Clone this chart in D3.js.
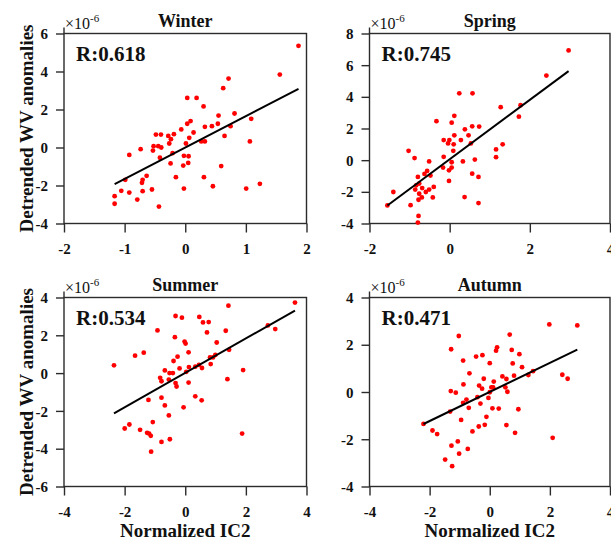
<!DOCTYPE html>
<html>
<head>
<meta charset="utf-8">
<script src="https://cdn.jsdelivr.net/npm/d3@7/dist/d3.min.js"></script>
<style>
  html, body { margin: 0; padding: 0; background: #fff; }
  svg { display: block; }
  text { font-family: "Liberation Serif", "Times New Roman", serif; font-weight: bold; fill: #111; }
</style>
</head>
<body>
<svg id="chart" width="611" height="541"></svg>
<script>
// Seasonal scatter: normalized IC2 vs detrended WV anomalies (×10^-6)
const seasons = ["Winter", "Spring", "Summer", "Autumn"];
const rLabels = ["R:0.618", "R:0.745", "R:0.534", "R:0.471"];

// Least-squares fit lines (slope, intercept) per season
const fitSlope = [1.651, 1.877, 0.911, 0.615];
const fitIntercept = [0.0, 0.057, 0.01, 0.0];

// Axis extents and tick values
const xDomains = [[-2, 2], [-2, 4], [-4, 4], [-4, 4]];
const yDomains = [[-4, 6], [-4, 8], [-6, 4], [-4, 4]];
const xTickValues = [[-2, -1, 0, 1, 2], [-2, 0, 2, 4], [-4, -2, 0, 2, 4], [-4, -2, 0, 2, 4]];
const yTickValues = [[-4, -2, 0, 2, 4, 6], [-4, -2, 0, 2, 4, 6, 8], [-6, -4, -2, 0, 2, 4], [-4, -2, 0, 2, 4]];

const winterX = [1.868, 1.56, 0.714, 0.626, 0.033, 0.187, 0.302, 0.813, 0.549, 1.088, 0.088, 0.033, -0.066, 0.137, 0.324, 0.44, 0.538, 0.747, 0.648, -0.484, -0.401, -0.28, -0.187, -0.236, -0.264, 0.066, 0.011, 0.264, 0.324, 1.066, -0.522, -0.445, -0.396, -0.533, -0.736, -0.923, -0.418, -0.209, -0.022, 0.055, -0.242, -0.033, 0.049, 0.593, -0.154, 0.308, -0.637, -0.703, -0.714, -0.989, -1.055, -0.923, -0.703, -0.549, -0.791, -1.165, -1.165, -0.434, -0.022, 0.456, 1.005, 1.231];
const winterY = [5.35, 3.84, 3.63, 3.12, 2.61, 2.61, 2.16, 1.79, 1.68, 1.51, 1.39, 1.25, 0.95, 0.79, 1.09, 1.12, 1.25, 1.12, 0.61, 0.68, 0.68, 0.61, 0.70, 0.44, 0.21, 0.51, 0.21, 0.32, 0.32, 0.32, 0.07, 0.07, 0.0, -0.16, -0.09, -0.39, -0.54, -0.30, -0.44, -0.46, -0.84, -0.95, -0.81, -0.98, -1.56, -1.56, -1.49, -1.70, -1.86, -1.70, -2.28, -2.37, -2.30, -2.21, -2.74, -2.56, -2.96, -3.11, -2.16, -2.04, -2.16, -1.91];

const springX = [2.967, 2.413, 1.769, 1.727, 1.273, 0.24, 0.57, -0.33, 0.116, 0.05, 0.38, 0.562, 0.736, 0.471, 0.116, -0.149, -0.008, -0.04, 0.10, 0.28, 0.529, 0.09, 1.157, 1.322, 1.157, -1.025, -0.876, -0.149, 0.628, -0.512, 0.05, 0.33, -0.165, 0.05, -0.017, -0.562, -0.628, -0.479, -0.793, 0.562, 0.719, -0.017, -0.76, -0.835, -0.397, -0.86, -0.512, -0.595, -1.405, -0.686, -0.76, -0.694, -0.777, -0.421, 0.372, 0.719, -0.975, -1.554, -0.777, -0.793];
const springY = [6.93, 5.34, 3.47, 2.75, 3.35, 4.22, 4.22, 2.46, 2.80, 2.37, 1.95, 2.14, 2.12, 1.57, 1.57, 1.27, 1.27, 1.06, 1.0, 1.27, 1.06, 0.59, 0.68, 1.0, 0.19, 0.59, 0.13, 0.21, 0.04, -0.08, -0.13, -0.08, -0.47, -0.47, -0.64, -0.68, -0.87, -0.97, -1.06, -0.85, -1.06, -1.31, -1.48, -1.59, -1.69, -1.86, -1.86, -2.01, -2.01, -1.76, -2.12, -2.35, -2.50, -2.35, -2.33, -2.71, -2.84, -2.86, -3.52, -3.94];

const summerX = [3.62, 1.424, -0.32, -0.11, 0.464, 0.585, 0.773, 2.726, 2.969, -0.916, 1.336, 0.717, -0.342, -0.022, 0.011, 1.038, 1.446, 0.11, -1.369, -1.656, -0.254, 0.993, 0.817, 0.916, -0.386, 0.839, -2.351, 0.453, 0.331, 0.121, -0.188, 0.552, -0.673, 1.909, -0.519, -0.408, 0.033, -0.828, -0.784, -0.541, 1.391, -0.32, -0.287, 0.11, 0.331, -0.784, 0.541, -1.214, -0.673, -0.055, -0.541, -1.071, -1.843, -1.998, -1.49, -1.258, -1.192, -1.137, 1.876, -0.508, -0.784, -1.126];
const summerY = [3.73, 3.57, 3.02, 2.93, 2.97, 2.68, 2.70, 2.52, 2.33, 2.26, 2.24, 2.15, 1.90, 1.67, 1.56, 1.62, 1.23, 1.10, 1.08, 0.92, 0.87, 0.96, 0.83, 0.83, 0.64, 0.48, 0.41, 0.43, 0.34, 0.32, 0.25, 0.27, 0.14, 0.16, 0.0, 0.0, 0.07, -0.25, -0.43, -0.34, -0.32, -0.53, -0.71, -0.50, -1.23, -1.30, -1.44, -1.42, -1.71, -1.81, -2.24, -2.59, -2.72, -2.93, -3.00, -3.16, -3.20, -3.32, -3.20, -3.50, -3.64, -4.16];

const autumnX = [1.982, 2.912, 0.664, -1.03, -1.285, 0.244, 0.21, 0.731, 0.986, -0.244, -0.454, -0.886, 0.0, 0.764, 1.074, -0.676, 1.44, 1.285, 0.808, 0.421, 2.414, 2.591, -0.199, 0.554, 0.133, -0.875, -0.354, -0.255, 0.055, 0.111, 0.52, -1.296, -1.13, 0.587, 0.0, -0.775, -0.41, -0.044, -0.886, -0.31, -0.698, 0.089, 0.299, 0.952, -1.318, -0.111, -0.952, -0.166, -0.365, 0.554, -0.576, 0.842, -2.204, -1.905, -1.75, 2.093, -1.063, -1.274, -0.731, -1.019, -1.484, -1.251];
const autumnY = [2.86, 2.82, 2.43, 2.37, 1.81, 1.89, 1.75, 1.78, 1.60, 1.56, 1.50, 1.33, 1.22, 1.21, 1.05, 0.79, 0.88, 0.72, 0.69, 0.66, 0.73, 0.56, 0.56, 0.55, 0.44, 0.32, 0.27, 0.14, 0.20, 0.20, 0.20, 0.04, -0.03, 0.01, -0.01, -0.32, -0.22, -0.25, -0.46, -0.49, -0.67, -0.69, -0.70, -0.73, -0.83, -1.05, -1.18, -1.39, -1.46, -1.40, -1.67, -1.73, -1.35, -1.63, -1.78, -1.94, -2.09, -2.27, -2.41, -2.61, -2.86, -3.14];

const seriesX = [winterX, springX, summerX, autumnX];
const seriesY = [winterY, springY, summerY, autumnY];

// Panel frames (2 x 2 grid)
const colLeft = [64, 369.5];
const colRight = [306.5, 610];
const rowTop = [33.5, 297.5];
const rowBottom = [223.5, 486.5];

const axisColor = "#2b2b2b";
const tickText = d => String(d);   // plain hyphen-minus, as in the labels
const svg = d3.select("#chart");

seasons.forEach((name, i) => {
  const c = i % 2, r = Math.floor(i / 2);
  const x0 = colLeft[c], x1 = colRight[c], y0 = rowTop[r], y1 = rowBottom[r];
  const x = d3.scaleLinear().domain(xDomains[i]).range([x0, x1]);
  const y = d3.scaleLinear().domain(yDomains[i]).range([y1, y0]);
  const g = svg.append("g");

  // box
  g.append("rect")
    .attr("x", x0).attr("y", y0).attr("width", x1 - x0).attr("height", y1 - y0)
    .attr("fill", "none").attr("stroke", axisColor).attr("stroke-width", 1.4);
  g.append("line")
    .attr("x1", x0).attr("x2", x0).attr("y1", y0 - 6).attr("y2", y0)
    .attr("stroke", axisColor).attr("stroke-width", 1.4);

  const yAxis = g.append("g").attr("transform", `translate(${x0},0)`)
    .call(d3.axisLeft(y).tickValues(yTickValues[i]).tickSize(8).tickSizeOuter(0).tickPadding(8).tickFormat(tickText));
  const xAxis = g.append("g").attr("transform", `translate(0,${y1})`)
    .call(d3.axisBottom(x).tickValues(xTickValues[i]).tickSize(9).tickSizeOuter(0).tickPadding(11).tickFormat(tickText));
  [yAxis, xAxis].forEach(a => {
    a.select(".domain").remove();
    a.selectAll(".tick line").attr("stroke", axisColor).attr("stroke-width", 1.4);
    a.selectAll(".tick text")
      .style("font-family", '"Liberation Serif", serif')
      .style("font-weight", "bold").style("font-size", "15px").attr("fill", "#111");
  });
  yAxis.selectAll(".tick text").attr("dy", "0.34em");

  // exponent
  const ex = g.append("text").attr("x", x0 + 1).attr("y", y0 - 5)
    .style("font-weight", "normal").style("font-size", "16px").attr("fill", "#222");
  ex.append("tspan").text("×10");
  ex.append("tspan").attr("dy", -7).style("font-size", "11px").text("-6");

  // title
  g.append("text").attr("x", (x0 + x1) / 2).attr("y", y0 - 7)
    .attr("text-anchor", "middle").style("font-size", "18px").text(name);

  // correlation label
  g.append("text").attr("x", x0 + 12).attr("y", y0 + 27)
    .style("font-size", "21px").text(rLabels[i]);

  // points
  const xs = seriesX[i], ys = seriesY[i];
  g.append("g").selectAll("circle").data(d3.range(xs.length)).join("circle")
    .attr("cx", k => x(xs[k])).attr("cy", k => y(ys[k])).attr("r", 2.4)
    .attr("fill", "#f00");

  // fit line over the data range
  const [xmin, xmax] = d3.extent(xs);
  g.append("line")
    .attr("x1", x(xmin)).attr("y1", y(fitSlope[i] * xmin + fitIntercept[i]))
    .attr("x2", x(xmax)).attr("y2", y(fitSlope[i] * xmax + fitIntercept[i]))
    .attr("stroke", "#000").attr("stroke-width", 2);

  // axis labels
  if (c === 0) {
    g.append("text")
      .attr("transform", `translate(33,${(y0 + y1) / 2}) rotate(-90)`)
      .attr("text-anchor", "middle").style("font-size", "19px")
      .text("Detrended WV anomalies");
  }
  if (r === 1) {
    g.append("text").attr("x", (x0 + x1) / 2).attr("y", 537)
      .attr("text-anchor", "middle").style("font-size", "19px")
      .text("Normalized IC2");
  }
});
</script>
</body>
</html>
